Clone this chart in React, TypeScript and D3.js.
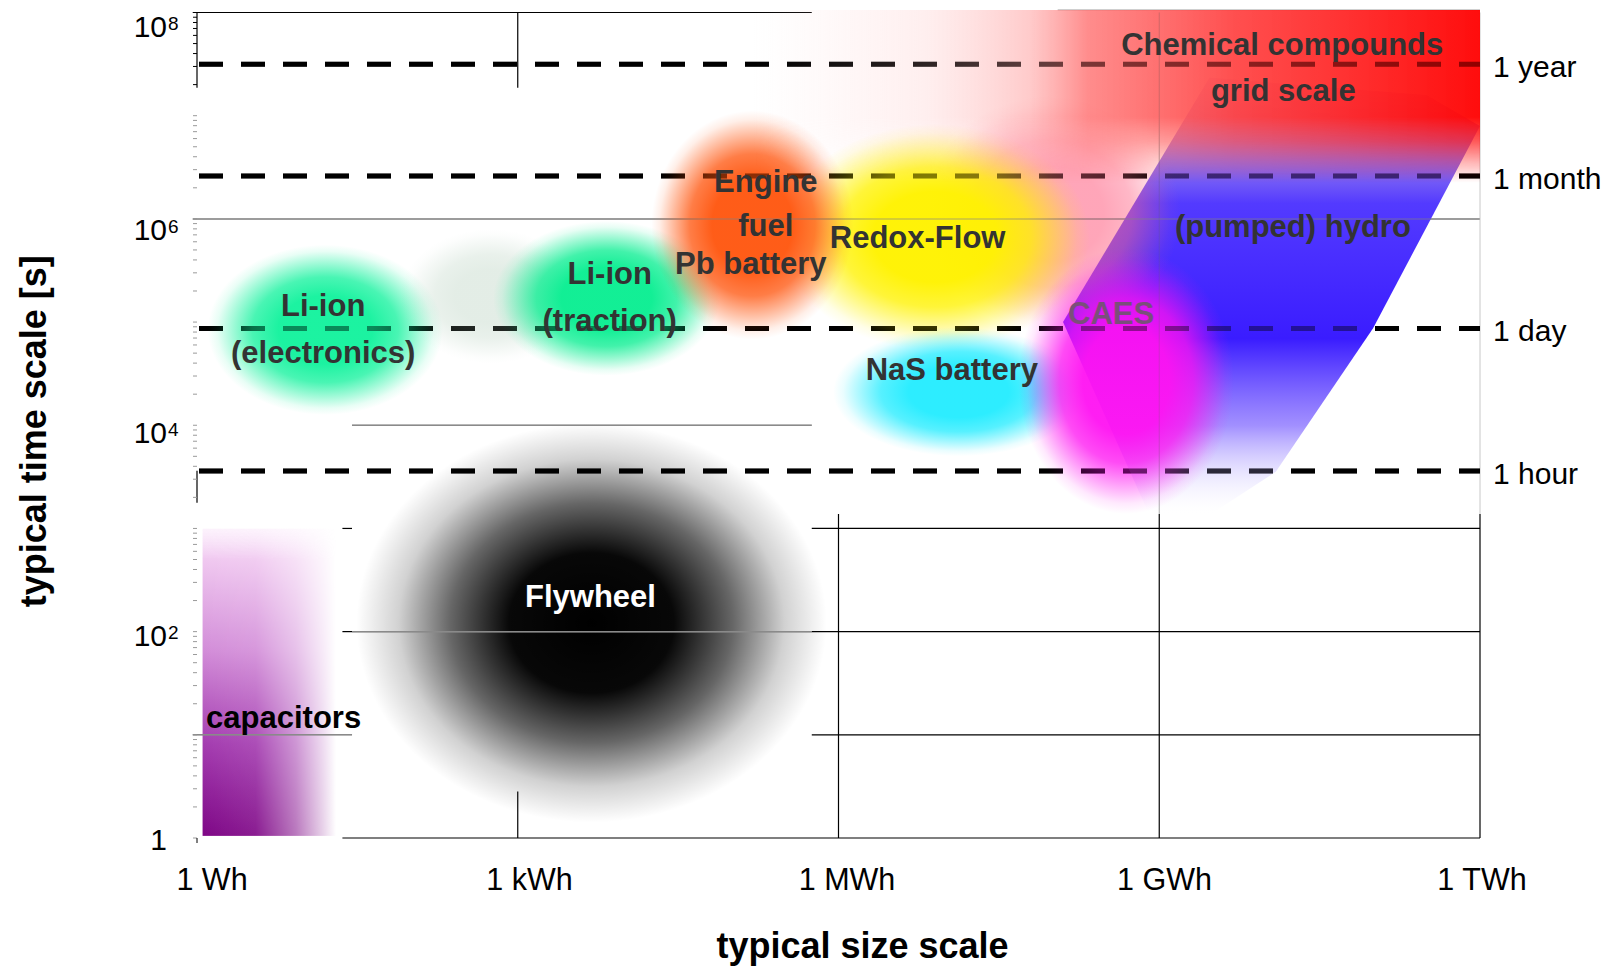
import React, { useEffect, useRef } from 'react';
import * as d3 from 'd3';

const WIDTH = 1612;
const HEIGHT = 968;
const FONT = 'Liberation Sans, Arial, Helvetica, sans-serif';

// x axis: typical size [Wh]
const sizeTicks = [1, 1e3, 1e6, 1e9, 1e12];
const sizeTickLabels = ['1 Wh', '1 kWh', '1 MWh', '1 GWh', '1 TWh'];

// y axis: typical time [s], written as 10^n
const timeTicks = [1, 1e2, 1e4, 1e6, 1e8];
const timeTickBases = ['1', '10', '10', '10', '10'];
const timeTickExponents = ['', '2', '4', '6', '8'];

// reference durations [s]
const durationSeconds = [3600, 86400, 2.6e6, 3.15e7];
const durationLabels = ['1 hour', '1 day', '1 month', '1 year'];

// grid pieces still visible in the figure (log10 Wh / log10 s)
const hGridTime = [1e8, 1e6, 1e4, 1e3, 1e3, 1e2, 1e2, 1e2, 10, 10, 1];
const hGridFrom = [-0.04, -0.04, 1.45, 1.36, 5.75, 1.36, 1.45, 5.75, -0.04, 5.75, 1.36];
const hGridTo = [5.75, 12, 5.75, 1.45, 12, 1.45, 5.75, 12, 1.45, 12, 12];
const hGridTone = ['dark', 'light', 'light', 'dark', 'dark', 'dark', 'light', 'dark', 'light', 'dark', 'dark'];

const vGridSize = [1e3, 1e3, 1e6, 1e9, 1e9, 1e12, 1e12];
const vGridFrom = [7.27, 0, 0, 0, 3.14, 0, 3.14];
const vGridTo = [8, 0.45, 3.14, 3.14, 8, 3.14, 8];
const vGridTone = ['dark', 'dark', 'dark', 'dark', 'faint', 'dark', 'faint'];

// soft technology regions: outer extent, log10 of [min, max]
const blobNames = ['Li-ion electronics', 'traction haze', 'Li-ion traction', 'pink haze', 'Redox-Flow', 'NaS', 'Engine / Pb', 'CAES'];
const blobLogSize = [[0.1, 2.3], [1.9, 3.6], [2.77, 4.89], [6.8, 9.2], [5.46, 8.35], [5.95, 8.3], [4.25, 6.14], [7.68, 9.7]];
const blobLogTime = [[4.1, 5.75], [4.6, 5.9], [4.48, 5.98], [4.9, 7.2], [4.73, 6.92], [3.7, 4.95], [4.83, 7.05], [3.14, 5.72]];

// (pumped) hydro outline
const hydroLogSize = [9.47, 11.5, 12.0, 11.0, 10.09, 9.5, 8.9, 8.1];
const hydroLogTime = [7.37, 7.2, 6.9, 4.94, 3.55, 3.15, 3.15, 5.0];

// chemical compounds band
const chemLogSize = [5.2, 12];
const chemLogTime = [6.35, 8.03];

// flywheel
const flyLogSize = [1.49, 5.89];
const flyLogTime = [0.15, 4.02];

// capacitors
const capLogSize = [0.05, 1.3];
const capLogTime = [0.02, 3.0];

// annotations (log10 Wh, log10 s)
const labelTexts = ['Chemical compounds', 'grid scale', 'Engine', 'fuel', 'Pb battery', 'Redox-Flow', '(pumped) hydro',
  'Li-ion', '(electronics)', 'Li-ion', '(traction)', 'CAES', 'NaS battery', 'Flywheel', 'capacitors'];
const labelLogSize = [10.15, 10.16, 5.32, 5.32, 5.18, 6.74, 10.25, 1.18, 1.18, 3.86, 3.86, 8.55, 7.06, 3.68, 0.81];
const labelLogTime = [7.69, 7.25, 6.37, 5.94, 5.57, 5.82, 5.93, 5.16, 4.71, 5.47, 5.02, 5.09, 4.54, 2.34, 1.17];

const blobStyle = {
  'Li-ion electronics': { color: '#10f29c', opacity: 0.95 },
  'traction haze': { color: '#b0ccb8', opacity: 0.35 },
  'Li-ion traction': { color: '#06ee90', opacity: 0.95 },
  'pink haze': { color: '#ff6a8a', opacity: 0.6 },
  'Redox-Flow': { color: '#fff200', opacity: 0.97 },
  'NaS': { color: '#22ecff', opacity: 0.95 },
  'Engine / Pb': { color: '#ff540c', opacity: 0.95 },
  'CAES': { color: '#ff12f2', opacity: 0.95 },
};

const labelColor = {
  'Flywheel': '#ffffff',
  'capacitors': '#000000',
  'CAES': '#7a4f7a',
};

const toneStyle = {
  dark: { stroke: '#000', width: 1.2 },
  light: { stroke: '#8a8a8a', width: 1.5 },
  faint: { stroke: '#c8c8c8', width: 1 },
};

function drawChart(node) {
  const svg = d3.select(node);
  svg.selectAll('*').remove();

  const x = d3.scaleLog().domain([1, 1e12]).range([197, 1480]);
  const y = d3.scaleLog().domain([1, 1e8]).range([838, 12.5]);
  const xe = (e) => x(Math.pow(10, e));
  const yt = (e) => y(Math.pow(10, e));
  // tick labels sit slightly off their ticks in the original figure
  const xLabel = d3.scaleLog().domain([1, 1e12]).range([212, 1482]);
  const yLabel = d3.scaleLog().domain([1, 1e8]).range([839, 26]);

  const defs = svg.append('defs');

  const addStops = (grad, stops) => {
    stops.forEach(([o, c, a]) => {
      grad.append('stop').attr('offset', o).attr('stop-color', c).attr('stop-opacity', a);
    });
  };

  // soft blob profile: flat core, smooth fall-off
  blobNames.forEach((name, i) => {
    const st = blobStyle[name];
    const g = defs.append('radialGradient').attr('id', `blob-${i}`);
    addStops(g, [
      [0, st.color, st.opacity],
      [0.4, st.color, st.opacity],
      [0.62, st.color, st.opacity * 0.8],
      [0.8, st.color, st.opacity * 0.38],
      [0.92, st.color, st.opacity * 0.1],
      [1, st.color, 0],
    ]);
  });

  const flyGrad = defs.append('radialGradient').attr('id', 'fly-grad');
  addStops(flyGrad, [[0, '#000', 1], [0.35, '#000', 0.97], [0.6, '#000', 0.6], [0.82, '#000', 0.18], [1, '#000', 0]]);

  // capacitors: colour runs top to bottom, a mask fades it out to the right
  const capGradV = defs.append('linearGradient').attr('id', 'cap-v').attr('x1', 0).attr('x2', 0).attr('y1', 0).attr('y2', 1);
  addStops(capGradV, [[0, '#fbeafb', 0.6], [0.1, '#f0c8f0', 1], [0.4, '#d28cd8', 1], [0.7, '#a43cb0', 1], [1, '#7e0686', 1]]);
  const capGradM = defs.append('linearGradient').attr('id', 'cap-m').attr('x1', 0).attr('x2', 1).attr('y1', 0).attr('y2', 0);
  addStops(capGradM, [[0, '#fff', 1], [0.4, '#e8e8e8', 1], [0.7, '#8a8a8a', 1], [0.9, '#303030', 1], [1, '#000', 1]]);
  defs.append('mask').attr('id', 'cap-mask')
    .attr('maskContentUnits', 'objectBoundingBox')
    .append('rect')
    .attr('width', 1).attr('height', 1)
    .attr('fill', 'url(#cap-m)');

  const hydroGrad = defs.append('linearGradient').attr('id', 'hydro-grad')
    .attr('gradientUnits', 'userSpaceOnUse')
    .attr('x1', 0).attr('x2', 0).attr('y1', 77).attr('y2', yt(3.15));
  addStops(hydroGrad, [[0, '#a060c8', 0.2], [0.12, '#9070e0', 0.7], [0.29, '#4a30ff', 0.95], [0.6, '#3a1cff', 1], [0.8, '#7a60ff', 0.7], [0.93, '#d0c8ff', 0.3], [1, '#f0ecff', 0]]);

  const chemGrad = defs.append('linearGradient').attr('id', 'chem-grad')
    .attr('gradientUnits', 'userSpaceOnUse')
    .attr('x1', xe(chemLogSize[0])).attr('x2', x(1e12)).attr('y1', 0).attr('y2', 0);
  addStops(chemGrad, [[0, '#ffd8d8', 0], [0.24, '#ffc8c8', 0.3], [0.38, '#ffa8a8', 0.6], [0.46, '#ff7070', 0.8], [0.66, '#ff3c3c', 0.9], [1, '#ff0000', 0.95]]);

  const chemFade = defs.append('linearGradient').attr('id', 'chem-fade')
    .attr('gradientUnits', 'userSpaceOnUse')
    .attr('x1', 0).attr('x2', 0).attr('y1', 10).attr('y2', yt(chemLogTime[0]));
  addStops(chemFade, [[0, '#fff', 1], [0.62, '#fff', 1], [0.76, '#b0b0b0', 1], [0.88, '#505050', 1], [1, '#000', 1]]);
  defs.append('mask').attr('id', 'chem-mask')
    .attr('maskUnits', 'userSpaceOnUse')
    .attr('x', 0).attr('y', 0).attr('width', WIDTH).attr('height', HEIGHT)
    .append('rect')
    .attr('width', WIDTH).attr('height', HEIGHT)
    .attr('fill', 'url(#chem-fade)');

  svg.append('rect').attr('width', WIDTH).attr('height', HEIGHT).attr('fill', '#fff');

  // flywheel
  svg.append('ellipse')
    .attr('cx', (xe(flyLogSize[0]) + xe(flyLogSize[1])) / 2)
    .attr('cy', (yt(flyLogTime[0]) + yt(flyLogTime[1])) / 2)
    .attr('rx', (xe(flyLogSize[1]) - xe(flyLogSize[0])) / 2)
    .attr('ry', (yt(flyLogTime[0]) - yt(flyLogTime[1])) / 2)
    .attr('fill', 'url(#fly-grad)');

  // capacitors
  svg.append('rect')
    .attr('x', xe(capLogSize[0]))
    .attr('y', yt(capLogTime[1]))
    .attr('width', xe(capLogSize[1]) - xe(capLogSize[0]))
    .attr('height', yt(capLogTime[0]) - yt(capLogTime[1]))
    .attr('fill', 'url(#cap-v)')
    .attr('mask', 'url(#cap-mask)');

  // grid remnants
  const grid = svg.append('g');
  const drawHGrid = (g, filter, opacity) => {
    hGridTime.forEach((t, i) => {
      if (!filter(hGridTone[i])) return;
      const s = toneStyle[hGridTone[i]];
      g.append('line')
        .attr('x1', xe(hGridFrom[i])).attr('x2', xe(hGridTo[i]))
        .attr('y1', y(t)).attr('y2', y(t))
        .attr('stroke', s.stroke).attr('stroke-width', s.width)
        .attr('stroke-opacity', opacity);
    });
  };
  drawHGrid(grid, () => true, 1);
  vGridSize.forEach((v, i) => {
    const s = toneStyle[vGridTone[i]];
    grid.append('line')
      .attr('x1', x(v)).attr('x2', x(v))
      .attr('y1', yt(vGridFrom[i])).attr('y2', yt(vGridTo[i]))
      .attr('stroke', s.stroke).attr('stroke-width', s.width);
  });
  // faint frame of the chemical-compounds picture
  grid.append('line')
    .attr('x1', xe(8.05)).attr('x2', x(1e12))
    .attr('y1', 10).attr('y2', 10)
    .attr('stroke', '#cfcfcf').attr('stroke-width', 2);

  // left axis: spine pieces and log minor ticks
  [[7.27, 8], [3.25, 3.56]].forEach(([a, b]) => {
    grid.append('line')
      .attr('x1', x(1)).attr('x2', x(1))
      .attr('y1', yt(a)).attr('y2', yt(b))
      .attr('stroke', '#000').attr('stroke-width', 1.2);
  });
  const minor = [];
  for (let d = 0; d < 8; d += 1) {
    for (let m = 1; m < 10; m += 1) minor.push(m * Math.pow(10, d));
  }
  minor.push(1e8);
  grid.selectAll('.minor')
    .data(minor)
    .enter().append('line')
    .attr('class', 'minor')
    .attr('x1', x(1) - 4).attr('x2', x(1))
    .attr('y1', (d) => y(d)).attr('y2', (d) => y(d))
    .attr('stroke', (d) => (d >= Math.pow(10, 7.27) ? '#000' : '#9a9a9a'))
    .attr('stroke-width', 1);
  grid.append('line')
    .attr('x1', x(1)).attr('x2', x(1))
    .attr('y1', y(1)).attr('y2', y(1) + 5)
    .attr('stroke', '#000');

  // reference durations
  const drawDurations = (opacity) => {
    svg.append('g').selectAll('line')
      .data(durationSeconds)
      .enter().append('line')
      .attr('x1', x(1) + 2).attr('x2', x(1e12))
      .attr('y1', (d) => y(d)).attr('y2', (d) => y(d))
      .attr('stroke', '#000')
      .attr('stroke-opacity', opacity)
      .attr('stroke-width', 5)
      .attr('stroke-dasharray', '24 18');
  };
  drawDurations(1);

  // (pumped) hydro
  const hydroPts = hydroLogSize.map((e, i) => [xe(e), yt(hydroLogTime[i])]);
  svg.append('path')
    .attr('d', d3.line().curve(d3.curveLinearClosed)(hydroPts))
    .attr('fill', 'url(#hydro-grad)');

  // soft blobs
  blobNames.forEach((name, i) => {
    const [e0, e1] = blobLogSize[i];
    const [t0, t1] = blobLogTime[i];
    svg.append('ellipse')
      .attr('cx', (xe(e0) + xe(e1)) / 2)
      .attr('cy', (yt(t0) + yt(t1)) / 2)
      .attr('rx', (xe(e1) - xe(e0)) / 2)
      .attr('ry', (yt(t0) - yt(t1)) / 2)
      .attr('fill', `url(#blob-${i})`);
  });

  // chemical compounds
  svg.append('rect')
    .attr('x', xe(chemLogSize[0]))
    .attr('y', 10)
    .attr('width', xe(chemLogSize[1]) - xe(chemLogSize[0]))
    .attr('height', yt(chemLogTime[0]) - 10)
    .attr('fill', 'url(#chem-grad)')
    .attr('mask', 'url(#chem-mask)');

  // lines show through the colour washes
  drawHGrid(svg.append('g'), (tone) => tone === 'light', 0.45);
  svg.append('line')
    .attr('x1', x(1e9)).attr('x2', x(1e9))
    .attr('y1', yt(8)).attr('y2', yt(3.14))
    .attr('stroke', '#666').attr('stroke-opacity', 0.25);
  drawDurations(0.4);

  // technology labels
  svg.append('g').selectAll('text')
    .data(labelTexts)
    .enter().append('text')
    .attr('x', (d, i) => xe(labelLogSize[i]))
    .attr('y', (d, i) => yt(labelLogTime[i]))
    .attr('dy', '0.35em')
    .attr('text-anchor', 'middle')
    .attr('font-family', FONT)
    .attr('font-weight', 'bold')
    .attr('font-size', 31)
    .attr('fill', (d) => labelColor[d] || '#333')
    .text((d) => d);

  // duration labels
  svg.append('g').selectAll('text')
    .data(durationSeconds)
    .enter().append('text')
    .attr('x', x(1e12) + 13)
    .attr('y', (d) => y(d) + 2)
    .attr('dy', '0.35em')
    .attr('font-family', FONT)
    .attr('font-size', 30)
    .attr('fill', '#000')
    .text((d, i) => durationLabels[i]);

  // x tick labels
  svg.append('g').selectAll('text')
    .data(sizeTicks)
    .enter().append('text')
    .attr('x', (d) => xLabel(d))
    .attr('y', 890)
    .attr('text-anchor', 'middle')
    .attr('font-family', FONT)
    .attr('font-size', 30.5)
    .attr('fill', '#000')
    .text((d, i) => sizeTickLabels[i]);

  // y tick labels
  const yl = svg.append('g');
  timeTicks.forEach((t, i) => {
    yl.append('text')
      .attr('x', 167)
      .attr('y', yLabel(t))
      .attr('dy', '0.35em')
      .attr('text-anchor', 'end')
      .attr('font-family', FONT)
      .attr('font-size', 30)
      .attr('fill', '#000')
      .text(timeTickBases[i]);
    if (timeTickExponents[i]) {
      yl.append('text')
        .attr('x', 168)
        .attr('y', yLabel(t) + 3.5)
        .attr('font-family', FONT)
        .attr('font-size', 19)
        .attr('fill', '#000')
        .text(timeTickExponents[i]);
    }
  });

  // axis titles
  svg.append('text')
    .attr('x', (x(1) + x(1e12)) / 2 + 24)
    .attr('y', 958)
    .attr('text-anchor', 'middle')
    .attr('font-family', FONT)
    .attr('font-weight', 'bold')
    .attr('font-size', 36)
    .text('typical size scale');

  svg.append('text')
    .attr('transform', `translate(46,${(y(1) + y(1e8)) / 2 + 6}) rotate(-90)`)
    .attr('text-anchor', 'middle')
    .attr('font-family', FONT)
    .attr('font-weight', 'bold')
    .attr('font-size', 36)
    .text('typical time scale [s]');
}

export default function App() {
  const ref = useRef(null);

  useEffect(() => {
    // draw with d3 once the svg is mounted
    drawChart(ref.current);
  }, []);

  return (
    <svg
      ref={ref}
      width={WIDTH}
      height={HEIGHT}
      style={{ position: 'absolute', left: 0, top: 0, display: 'block' }}
    />
  );
}
